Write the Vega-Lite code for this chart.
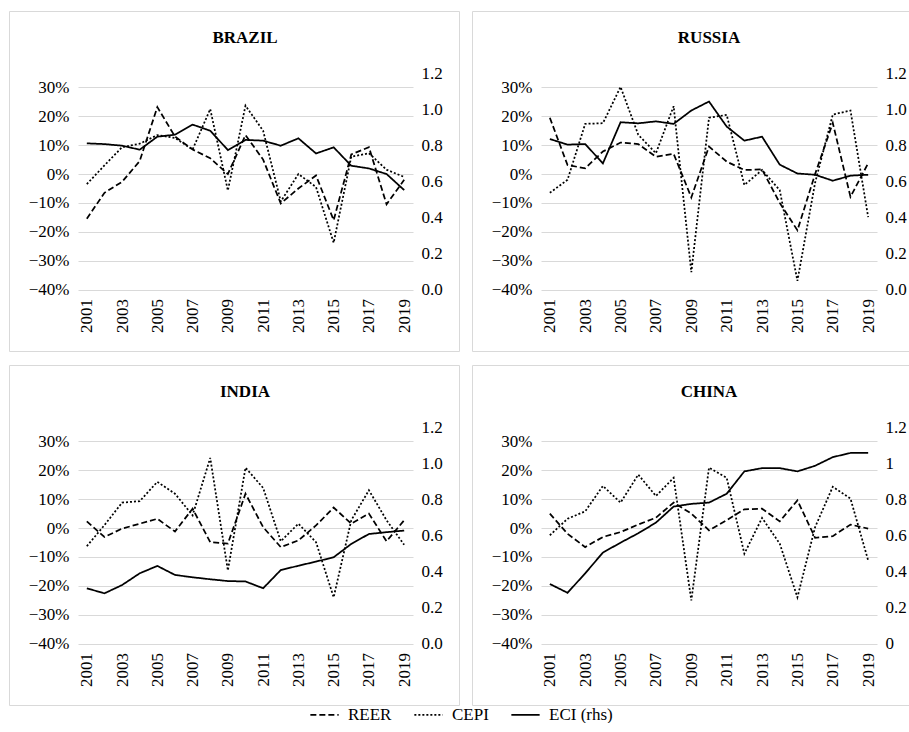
{
  "$schema": "https://vega.github.io/schema/vega-lite/v6.json",
  "padding": {"left": 8, "top": 10, "right": 0, "bottom": 0},
  "background": "white",
  "datasets": {
    "d": [
      {"country":"BRAZIL","series":"REER","year":2001,"value":-0.155},{"country":"BRAZIL","series":"REER","year":2002,"value":-0.065},{"country":"BRAZIL","series":"REER","year":2003,"value":-0.027},{"country":"BRAZIL","series":"REER","year":2004,"value":0.045},{"country":"BRAZIL","series":"REER","year":2005,"value":0.232},{"country":"BRAZIL","series":"REER","year":2006,"value":0.13},{"country":"BRAZIL","series":"REER","year":2007,"value":0.085},{"country":"BRAZIL","series":"REER","year":2008,"value":0.055},{"country":"BRAZIL","series":"REER","year":2009,"value":0.0},{"country":"BRAZIL","series":"REER","year":2010,"value":0.135},{"country":"BRAZIL","series":"REER","year":2011,"value":0.05},{"country":"BRAZIL","series":"REER","year":2012,"value":-0.102},{"country":"BRAZIL","series":"REER","year":2013,"value":-0.05},{"country":"BRAZIL","series":"REER","year":2014,"value":-0.005},{"country":"BRAZIL","series":"REER","year":2015,"value":-0.16},{"country":"BRAZIL","series":"REER","year":2016,"value":0.068},{"country":"BRAZIL","series":"REER","year":2017,"value":0.093},{"country":"BRAZIL","series":"REER","year":2018,"value":-0.105},{"country":"BRAZIL","series":"REER","year":2019,"value":-0.02},
      {"country":"BRAZIL","series":"CEPI","year":2001,"value":-0.035},{"country":"BRAZIL","series":"CEPI","year":2002,"value":0.03},{"country":"BRAZIL","series":"CEPI","year":2003,"value":0.093},{"country":"BRAZIL","series":"CEPI","year":2004,"value":0.105},{"country":"BRAZIL","series":"CEPI","year":2005,"value":0.135},{"country":"BRAZIL","series":"CEPI","year":2006,"value":0.125},{"country":"BRAZIL","series":"CEPI","year":2007,"value":0.085},{"country":"BRAZIL","series":"CEPI","year":2008,"value":0.225},{"country":"BRAZIL","series":"CEPI","year":2009,"value":-0.057},{"country":"BRAZIL","series":"CEPI","year":2010,"value":0.237},{"country":"BRAZIL","series":"CEPI","year":2011,"value":0.15},{"country":"BRAZIL","series":"CEPI","year":2012,"value":-0.095},{"country":"BRAZIL","series":"CEPI","year":2013,"value":0.0},{"country":"BRAZIL","series":"CEPI","year":2014,"value":-0.045},{"country":"BRAZIL","series":"CEPI","year":2015,"value":-0.238},{"country":"BRAZIL","series":"CEPI","year":2016,"value":0.06},{"country":"BRAZIL","series":"CEPI","year":2017,"value":0.072},{"country":"BRAZIL","series":"CEPI","year":2018,"value":0.015},{"country":"BRAZIL","series":"CEPI","year":2019,"value":-0.01},
      {"country":"BRAZIL","series":"ECI (rhs)","year":2001,"value":0.81},{"country":"BRAZIL","series":"ECI (rhs)","year":2002,"value":0.806},{"country":"BRAZIL","series":"ECI (rhs)","year":2003,"value":0.797},{"country":"BRAZIL","series":"ECI (rhs)","year":2004,"value":0.775},{"country":"BRAZIL","series":"ECI (rhs)","year":2005,"value":0.847},{"country":"BRAZIL","series":"ECI (rhs)","year":2006,"value":0.858},{"country":"BRAZIL","series":"ECI (rhs)","year":2007,"value":0.914},{"country":"BRAZIL","series":"ECI (rhs)","year":2008,"value":0.88},{"country":"BRAZIL","series":"ECI (rhs)","year":2009,"value":0.773},{"country":"BRAZIL","series":"ECI (rhs)","year":2010,"value":0.829},{"country":"BRAZIL","series":"ECI (rhs)","year":2011,"value":0.825},{"country":"BRAZIL","series":"ECI (rhs)","year":2012,"value":0.797},{"country":"BRAZIL","series":"ECI (rhs)","year":2013,"value":0.838},{"country":"BRAZIL","series":"ECI (rhs)","year":2014,"value":0.754},{"country":"BRAZIL","series":"ECI (rhs)","year":2015,"value":0.788},{"country":"BRAZIL","series":"ECI (rhs)","year":2016,"value":0.686},{"country":"BRAZIL","series":"ECI (rhs)","year":2017,"value":0.671},{"country":"BRAZIL","series":"ECI (rhs)","year":2018,"value":0.64},{"country":"BRAZIL","series":"ECI (rhs)","year":2019,"value":0.551},

      {"country":"RUSSIA","series":"REER","year":2001,"value":0.195},{"country":"RUSSIA","series":"REER","year":2002,"value":0.031},{"country":"RUSSIA","series":"REER","year":2003,"value":0.02},{"country":"RUSSIA","series":"REER","year":2004,"value":0.078},{"country":"RUSSIA","series":"REER","year":2005,"value":0.109},{"country":"RUSSIA","series":"REER","year":2006,"value":0.104},{"country":"RUSSIA","series":"REER","year":2007,"value":0.06},{"country":"RUSSIA","series":"REER","year":2008,"value":0.07},{"country":"RUSSIA","series":"REER","year":2009,"value":-0.081},{"country":"RUSSIA","series":"REER","year":2010,"value":0.095},{"country":"RUSSIA","series":"REER","year":2011,"value":0.043},{"country":"RUSSIA","series":"REER","year":2012,"value":0.014},{"country":"RUSSIA","series":"REER","year":2013,"value":0.016},{"country":"RUSSIA","series":"REER","year":2014,"value":-0.1},{"country":"RUSSIA","series":"REER","year":2015,"value":-0.195},{"country":"RUSSIA","series":"REER","year":2016,"value":0.0},{"country":"RUSSIA","series":"REER","year":2017,"value":0.177},{"country":"RUSSIA","series":"REER","year":2018,"value":-0.079},{"country":"RUSSIA","series":"REER","year":2019,"value":0.037},
      {"country":"RUSSIA","series":"CEPI","year":2001,"value":-0.065},{"country":"RUSSIA","series":"CEPI","year":2002,"value":-0.02},{"country":"RUSSIA","series":"CEPI","year":2003,"value":0.174},{"country":"RUSSIA","series":"CEPI","year":2004,"value":0.176},{"country":"RUSSIA","series":"CEPI","year":2005,"value":0.302},{"country":"RUSSIA","series":"CEPI","year":2006,"value":0.136},{"country":"RUSSIA","series":"CEPI","year":2007,"value":0.072},{"country":"RUSSIA","series":"CEPI","year":2008,"value":0.235},{"country":"RUSSIA","series":"CEPI","year":2009,"value":-0.34},{"country":"RUSSIA","series":"CEPI","year":2010,"value":0.195},{"country":"RUSSIA","series":"CEPI","year":2011,"value":0.205},{"country":"RUSSIA","series":"CEPI","year":2012,"value":-0.038},{"country":"RUSSIA","series":"CEPI","year":2013,"value":0.014},{"country":"RUSSIA","series":"CEPI","year":2014,"value":-0.056},{"country":"RUSSIA","series":"CEPI","year":2015,"value":-0.37},{"country":"RUSSIA","series":"CEPI","year":2016,"value":-0.03},{"country":"RUSSIA","series":"CEPI","year":2017,"value":0.206},{"country":"RUSSIA","series":"CEPI","year":2018,"value":0.22},{"country":"RUSSIA","series":"CEPI","year":2019,"value":-0.149},
      {"country":"RUSSIA","series":"ECI (rhs)","year":2001,"value":0.834},{"country":"RUSSIA","series":"ECI (rhs)","year":2002,"value":0.803},{"country":"RUSSIA","series":"ECI (rhs)","year":2003,"value":0.806},{"country":"RUSSIA","series":"ECI (rhs)","year":2004,"value":0.699},{"country":"RUSSIA","series":"ECI (rhs)","year":2005,"value":0.927},{"country":"RUSSIA","series":"ECI (rhs)","year":2006,"value":0.921},{"country":"RUSSIA","series":"ECI (rhs)","year":2007,"value":0.932},{"country":"RUSSIA","series":"ECI (rhs)","year":2008,"value":0.918},{"country":"RUSSIA","series":"ECI (rhs)","year":2009,"value":0.992},{"country":"RUSSIA","series":"ECI (rhs)","year":2010,"value":1.042},{"country":"RUSSIA","series":"ECI (rhs)","year":2011,"value":0.903},{"country":"RUSSIA","series":"ECI (rhs)","year":2012,"value":0.825},{"country":"RUSSIA","series":"ECI (rhs)","year":2013,"value":0.847},{"country":"RUSSIA","series":"ECI (rhs)","year":2014,"value":0.692},{"country":"RUSSIA","series":"ECI (rhs)","year":2015,"value":0.643},{"country":"RUSSIA","series":"ECI (rhs)","year":2016,"value":0.636},{"country":"RUSSIA","series":"ECI (rhs)","year":2017,"value":0.603},{"country":"RUSSIA","series":"ECI (rhs)","year":2018,"value":0.631},{"country":"RUSSIA","series":"ECI (rhs)","year":2019,"value":0.636},

      {"country":"INDIA","series":"REER","year":2001,"value":0.023},{"country":"INDIA","series":"REER","year":2002,"value":-0.031},{"country":"INDIA","series":"REER","year":2003,"value":-0.002},{"country":"INDIA","series":"REER","year":2004,"value":0.015},{"country":"INDIA","series":"REER","year":2005,"value":0.032},{"country":"INDIA","series":"REER","year":2006,"value":-0.012},{"country":"INDIA","series":"REER","year":2007,"value":0.067},{"country":"INDIA","series":"REER","year":2008,"value":-0.049},{"country":"INDIA","series":"REER","year":2009,"value":-0.054},{"country":"INDIA","series":"REER","year":2010,"value":0.119},{"country":"INDIA","series":"REER","year":2011,"value":0.003},{"country":"INDIA","series":"REER","year":2012,"value":-0.066},{"country":"INDIA","series":"REER","year":2013,"value":-0.043},{"country":"INDIA","series":"REER","year":2014,"value":0.009},{"country":"INDIA","series":"REER","year":2015,"value":0.071},{"country":"INDIA","series":"REER","year":2016,"value":0.015},{"country":"INDIA","series":"REER","year":2017,"value":0.05},{"country":"INDIA","series":"REER","year":2018,"value":-0.046},{"country":"INDIA","series":"REER","year":2019,"value":0.027},
      {"country":"INDIA","series":"CEPI","year":2001,"value":-0.063},{"country":"INDIA","series":"CEPI","year":2002,"value":0.01},{"country":"INDIA","series":"CEPI","year":2003,"value":0.088},{"country":"INDIA","series":"CEPI","year":2004,"value":0.093},{"country":"INDIA","series":"CEPI","year":2005,"value":0.16},{"country":"INDIA","series":"CEPI","year":2006,"value":0.119},{"country":"INDIA","series":"CEPI","year":2007,"value":0.044},{"country":"INDIA","series":"CEPI","year":2008,"value":0.243},{"country":"INDIA","series":"CEPI","year":2009,"value":-0.147},{"country":"INDIA","series":"CEPI","year":2010,"value":0.209},{"country":"INDIA","series":"CEPI","year":2011,"value":0.139},{"country":"INDIA","series":"CEPI","year":2012,"value":-0.046},{"country":"INDIA","series":"CEPI","year":2013,"value":0.015},{"country":"INDIA","series":"CEPI","year":2014,"value":-0.049},{"country":"INDIA","series":"CEPI","year":2015,"value":-0.24},{"country":"INDIA","series":"CEPI","year":2016,"value":0.027},{"country":"INDIA","series":"CEPI","year":2017,"value":0.131},{"country":"INDIA","series":"CEPI","year":2018,"value":0.027},{"country":"INDIA","series":"CEPI","year":2019,"value":-0.058},
      {"country":"INDIA","series":"ECI (rhs)","year":2001,"value":0.306},{"country":"INDIA","series":"ECI (rhs)","year":2002,"value":0.278},{"country":"INDIA","series":"ECI (rhs)","year":2003,"value":0.324},{"country":"INDIA","series":"ECI (rhs)","year":2004,"value":0.389},{"country":"INDIA","series":"ECI (rhs)","year":2005,"value":0.43},{"country":"INDIA","series":"ECI (rhs)","year":2006,"value":0.38},{"country":"INDIA","series":"ECI (rhs)","year":2007,"value":0.367},{"country":"INDIA","series":"ECI (rhs)","year":2008,"value":0.356},{"country":"INDIA","series":"ECI (rhs)","year":2009,"value":0.346},{"country":"INDIA","series":"ECI (rhs)","year":2010,"value":0.344},{"country":"INDIA","series":"ECI (rhs)","year":2011,"value":0.306},{"country":"INDIA","series":"ECI (rhs)","year":2012,"value":0.407},{"country":"INDIA","series":"ECI (rhs)","year":2013,"value":0.431},{"country":"INDIA","series":"ECI (rhs)","year":2014,"value":0.454},{"country":"INDIA","series":"ECI (rhs)","year":2015,"value":0.478},{"country":"INDIA","series":"ECI (rhs)","year":2016,"value":0.552},{"country":"INDIA","series":"ECI (rhs)","year":2017,"value":0.607},{"country":"INDIA","series":"ECI (rhs)","year":2018,"value":0.617},{"country":"INDIA","series":"ECI (rhs)","year":2019,"value":0.626},

      {"country":"CHINA","series":"REER","year":2001,"value":0.05},{"country":"CHINA","series":"REER","year":2002,"value":-0.02},{"country":"CHINA","series":"REER","year":2003,"value":-0.066},{"country":"CHINA","series":"REER","year":2004,"value":-0.031},{"country":"CHINA","series":"REER","year":2005,"value":-0.014},{"country":"CHINA","series":"REER","year":2006,"value":0.012},{"country":"CHINA","series":"REER","year":2007,"value":0.036},{"country":"CHINA","series":"REER","year":2008,"value":0.088},{"country":"CHINA","series":"REER","year":2009,"value":0.05},{"country":"CHINA","series":"REER","year":2010,"value":-0.008},{"country":"CHINA","series":"REER","year":2011,"value":0.027},{"country":"CHINA","series":"REER","year":2012,"value":0.065},{"country":"CHINA","series":"REER","year":2013,"value":0.067},{"country":"CHINA","series":"REER","year":2014,"value":0.023},{"country":"CHINA","series":"REER","year":2015,"value":0.096},{"country":"CHINA","series":"REER","year":2016,"value":-0.034},{"country":"CHINA","series":"REER","year":2017,"value":-0.028},{"country":"CHINA","series":"REER","year":2018,"value":0.012},{"country":"CHINA","series":"REER","year":2019,"value":-0.002},
      {"country":"CHINA","series":"CEPI","year":2001,"value":-0.025},{"country":"CHINA","series":"CEPI","year":2002,"value":0.032},{"country":"CHINA","series":"CEPI","year":2003,"value":0.058},{"country":"CHINA","series":"CEPI","year":2004,"value":0.146},{"country":"CHINA","series":"CEPI","year":2005,"value":0.088},{"country":"CHINA","series":"CEPI","year":2006,"value":0.185},{"country":"CHINA","series":"CEPI","year":2007,"value":0.111},{"country":"CHINA","series":"CEPI","year":2008,"value":0.174},{"country":"CHINA","series":"CEPI","year":2009,"value":-0.251},{"country":"CHINA","series":"CEPI","year":2010,"value":0.209},{"country":"CHINA","series":"CEPI","year":2011,"value":0.174},{"country":"CHINA","series":"CEPI","year":2012,"value":-0.089},{"country":"CHINA","series":"CEPI","year":2013,"value":0.035},{"country":"CHINA","series":"CEPI","year":2014,"value":-0.054},{"country":"CHINA","series":"CEPI","year":2015,"value":-0.24},{"country":"CHINA","series":"CEPI","year":2016,"value":0.003},{"country":"CHINA","series":"CEPI","year":2017,"value":0.143},{"country":"CHINA","series":"CEPI","year":2018,"value":0.102},{"country":"CHINA","series":"CEPI","year":2019,"value":-0.112},
      {"country":"CHINA","series":"ECI (rhs)","year":2001,"value":0.33},{"country":"CHINA","series":"ECI (rhs)","year":2002,"value":0.281},{"country":"CHINA","series":"ECI (rhs)","year":2003,"value":0.389},{"country":"CHINA","series":"ECI (rhs)","year":2004,"value":0.504},{"country":"CHINA","series":"ECI (rhs)","year":2005,"value":0.559},{"country":"CHINA","series":"ECI (rhs)","year":2006,"value":0.611},{"country":"CHINA","series":"ECI (rhs)","year":2007,"value":0.67},{"country":"CHINA","series":"ECI (rhs)","year":2008,"value":0.759},{"country":"CHINA","series":"ECI (rhs)","year":2009,"value":0.774},{"country":"CHINA","series":"ECI (rhs)","year":2010,"value":0.781},{"country":"CHINA","series":"ECI (rhs)","year":2011,"value":0.83},{"country":"CHINA","series":"ECI (rhs)","year":2012,"value":0.954},{"country":"CHINA","series":"ECI (rhs)","year":2013,"value":0.972},{"country":"CHINA","series":"ECI (rhs)","year":2014,"value":0.972},{"country":"CHINA","series":"ECI (rhs)","year":2015,"value":0.954},{"country":"CHINA","series":"ECI (rhs)","year":2016,"value":0.985},{"country":"CHINA","series":"ECI (rhs)","year":2017,"value":1.033},{"country":"CHINA","series":"ECI (rhs)","year":2018,"value":1.056},{"country":"CHINA","series":"ECI (rhs)","year":2019,"value":1.056}
    ]
  },
  "data": {"name": "d"},
  "spacing": 12,
  "vconcat": [
    {
      "spacing": 11,
      "hconcat": [
        {
          "width": 450, "height": 340,
          "title": {"text": "BRAZIL", "offset": -36, "dx": 11},
          "transform": [{"filter": {"field": "country", "equal": "BRAZIL"}}],
          "encoding": {
            "x": {"field": "year", "type": "ordinal", "scale": {"type": "point", "range": [69, 404], "padding": 0.5},
                  "axis": {"title": null, "values": [2001,2003,2005,2007,2009,2011,2013,2015,2017,2019], "labelAngle": -90, "offset": -61.5, "labelPadding": 9}},
            "strokeDash": {"field": "series", "type": "nominal", "scale": {"domain": ["REER", "CEPI", "ECI (rhs)"], "range": [[6,3],[2,2],[1,0]]},
                  "legend": {"title": null, "orient": "bottom", "direction": "horizontal"}}
          },
          "layer": [
            {
              "transform": [{"filter": {"field": "series", "oneOf": ["REER", "CEPI"]}}],
              "mark": {"type": "line"},
              "encoding": {
                "y": {"field": "value", "type": "quantitative", "scale": {"domain": [-0.4, 0.35], "range": [278.5, 62], "nice": false, "zero": false},
                      "axis": {"title": null, "values": [-0.4,-0.3,-0.2,-0.1,0,0.1,0.2,0.3], "format": ".0%", "grid": true, "offset": -69, "labelPadding": 9}}
              }
            },
            {
              "transform": [{"filter": {"field": "series", "equal": "ECI (rhs)"}}],
              "mark": {"type": "line"},
              "encoding": {
                "y": {"field": "value", "type": "quantitative", "scale": {"domain": [0, 1.2], "range": [278.5, 62], "nice": false},
                      "axis": {"title": null, "orient": "right", "values": [0,0.2,0.4,0.6,0.8,1.0,1.2], "format": ".1f", "offset": -46, "labelPadding": 8}}
              }
            }
          ],
          "resolve": {"scale": {"y": "independent"}}
        },
        {
          "width": 440, "height": 340,
          "title": {"text": "RUSSIA", "offset": -36, "dx": 17},
          "transform": [{"filter": {"field": "country", "equal": "RUSSIA"}}],
          "encoding": {
            "x": {"field": "year", "type": "ordinal", "scale": {"type": "point", "range": [69, 405], "padding": 0.5},
                  "axis": {"title": null, "values": [2001,2003,2005,2007,2009,2011,2013,2015,2017,2019], "labelAngle": -90, "offset": -61.5, "labelPadding": 9}},
            "strokeDash": {"field": "series", "type": "nominal"}
          },
          "layer": [
            {
              "transform": [{"filter": {"field": "series", "oneOf": ["REER", "CEPI"]}}],
              "mark": {"type": "line"},
              "encoding": {
                "y": {"field": "value", "type": "quantitative", "scale": {"domain": [-0.4, 0.35], "range": [278.5, 62], "nice": false, "zero": false},
                      "axis": {"title": null, "values": [-0.4,-0.3,-0.2,-0.1,0,0.1,0.2,0.3], "format": ".0%", "grid": true, "offset": -69, "labelPadding": 9}}
              }
            },
            {
              "transform": [{"filter": {"field": "series", "equal": "ECI (rhs)"}}],
              "mark": {"type": "line"},
              "encoding": {
                "y": {"field": "value", "type": "quantitative", "scale": {"domain": [0, 1.2], "range": [278.5, 62], "nice": false},
                      "axis": {"title": null, "orient": "right", "values": [0,0.2,0.4,0.6,0.8,1.0,1.2], "format": ".1f", "offset": -35, "labelPadding": 8}}
              }
            }
          ],
          "resolve": {"scale": {"y": "independent"}}
        }
      ]
    },
    {
      "spacing": 11,
      "hconcat": [
        {
          "width": 450, "height": 340,
          "title": {"text": "INDIA", "offset": -36, "dx": 11},
          "transform": [{"filter": {"field": "country", "equal": "INDIA"}}],
          "encoding": {
            "x": {"field": "year", "type": "ordinal", "scale": {"type": "point", "range": [69, 404], "padding": 0.5},
                  "axis": {"title": null, "values": [2001,2003,2005,2007,2009,2011,2013,2015,2017,2019], "labelAngle": -90, "offset": -61.5, "labelPadding": 9}},
            "strokeDash": {"field": "series", "type": "nominal"}
          },
          "layer": [
            {
              "transform": [{"filter": {"field": "series", "oneOf": ["REER", "CEPI"]}}],
              "mark": {"type": "line"},
              "encoding": {
                "y": {"field": "value", "type": "quantitative", "scale": {"domain": [-0.4, 0.35], "range": [278.5, 62], "nice": false, "zero": false},
                      "axis": {"title": null, "values": [-0.4,-0.3,-0.2,-0.1,0,0.1,0.2,0.3], "format": ".0%", "grid": true, "offset": -69, "labelPadding": 9}}
              }
            },
            {
              "transform": [{"filter": {"field": "series", "equal": "ECI (rhs)"}}],
              "mark": {"type": "line"},
              "encoding": {
                "y": {"field": "value", "type": "quantitative", "scale": {"domain": [0, 1.2], "range": [278.5, 62], "nice": false},
                      "axis": {"title": null, "orient": "right", "values": [0,0.2,0.4,0.6,0.8,1.0,1.2], "format": ".1f", "offset": -46, "labelPadding": 8}}
              }
            }
          ],
          "resolve": {"scale": {"y": "independent"}}
        },
        {
          "width": 440, "height": 340,
          "title": {"text": "CHINA", "offset": -36, "dx": 17},
          "transform": [{"filter": {"field": "country", "equal": "CHINA"}}],
          "encoding": {
            "x": {"field": "year", "type": "ordinal", "scale": {"type": "point", "range": [69, 405], "padding": 0.5},
                  "axis": {"title": null, "values": [2001,2003,2005,2007,2009,2011,2013,2015,2017,2019], "labelAngle": -90, "offset": -61.5, "labelPadding": 9}},
            "strokeDash": {"field": "series", "type": "nominal"}
          },
          "layer": [
            {
              "transform": [{"filter": {"field": "series", "oneOf": ["REER", "CEPI"]}}],
              "mark": {"type": "line"},
              "encoding": {
                "y": {"field": "value", "type": "quantitative", "scale": {"domain": [-0.4, 0.35], "range": [278.5, 62], "nice": false, "zero": false},
                      "axis": {"title": null, "values": [-0.4,-0.3,-0.2,-0.1,0,0.1,0.2,0.3], "format": ".0%", "grid": true, "offset": -69, "labelPadding": 9}}
              }
            },
            {
              "transform": [{"filter": {"field": "series", "equal": "ECI (rhs)"}}],
              "mark": {"type": "line"},
              "encoding": {
                "y": {"field": "value", "type": "quantitative", "scale": {"domain": [0, 1.2], "range": [278.5, 62], "nice": false},
                      "axis": {"title": null, "orient": "right", "values": [0,0.2,0.4,0.6,0.8,1.0,1.2], "format": ".1~f", "offset": -35, "labelPadding": 8}}
              }
            }
          ],
          "resolve": {"scale": {"y": "independent"}}
        }
      ]
    }
  ],
  "resolve": {"scale": {"strokeDash": "shared"}, "legend": {"strokeDash": "shared"}},
  "config": {
    "font": "'Liberation Serif', 'DejaVu Serif', serif",
    "view": {"stroke": "#d9d9d9", "strokeWidth": 1},
    "line": {"color": "#000000", "strokeWidth": 1.75},
    "title": {"font": "'Liberation Serif', 'DejaVu Serif', serif", "fontSize": 17, "fontWeight": "bold", "color": "#000000", "anchor": "middle", "frame": "group", "baseline": "alphabetic"},
    "axis": {"labelFont": "'Liberation Serif', 'DejaVu Serif', serif", "labelFontSize": 17, "labelColor": "#000000", "domain": false, "ticks": false, "grid": false, "gridColor": "#d9d9d9", "gridWidth": 1, "gridOpacity": 1},
    "legend": {
      "labelFont": "'Liberation Serif', 'DejaVu Serif', serif", "labelFontSize": 17, "labelColor": "#000000",
      "symbolType": "stroke", "symbolSize": 800, "symbolStrokeWidth": 1.75, "symbolStrokeColor": "#000000",
      "labelOffset": 8, "columnPadding": 18, "offset": -7,
      "layout": {"bottom": {"anchor": "middle"}}
    }
  }
}
